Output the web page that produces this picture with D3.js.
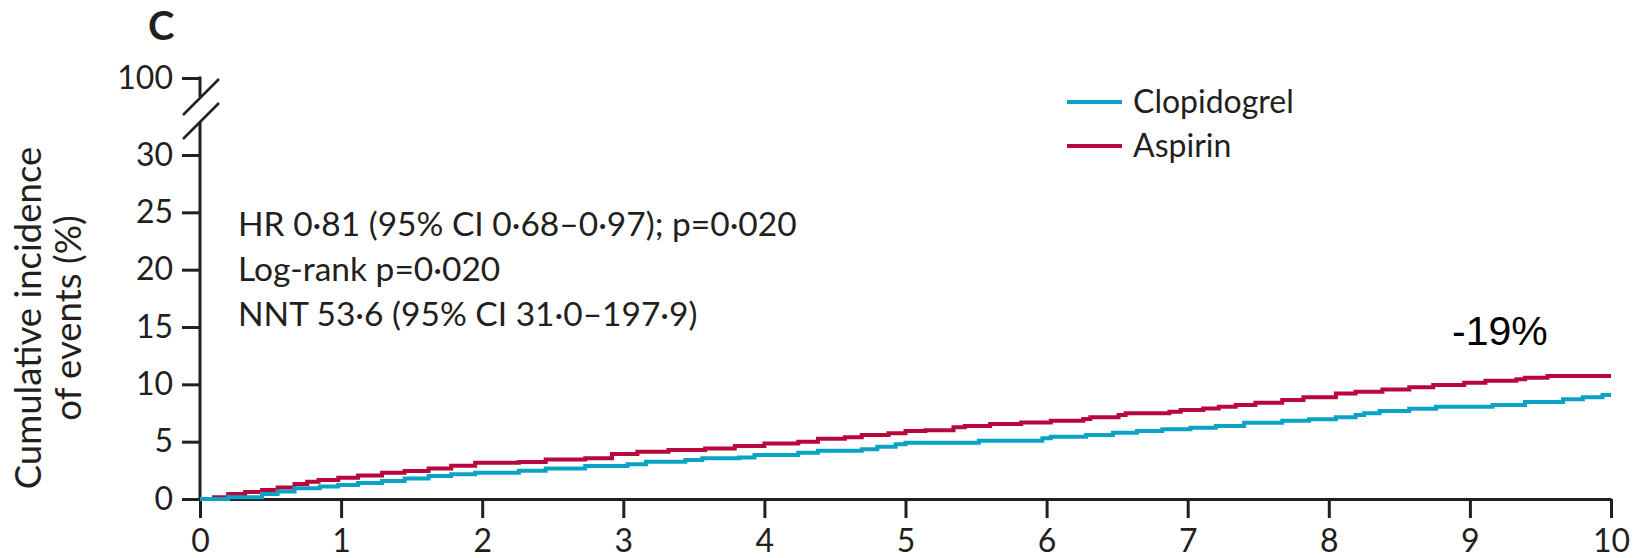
<!DOCTYPE html>
<html lang="en">
<head>
<meta charset="UTF-8">
<title>Cumulative incidence</title>
<script src="https://d3js.org/d3.v7.min.js"></script>
<style>
    body { margin: 0; background: #fff; }
    svg text { font-family: Lato, "Open Sans", sans-serif; fill: #231f20; }
    .axis path, .axis line { stroke: #231f20; stroke-width: 3; }
</style>
</head>
<body>
<script>

    // years, cumulative incidence (%) at each step
    var aspirinT = [0, 0.1, 0.2, 0.32, 0.44, 0.55, 0.67, 0.76, 0.84, 0.98, 1.12, 1.29, 1.45, 1.62, 1.78, 1.95, 2.26, 2.45, 2.73, 2.92, 3.1, 3.32, 3.58, 3.79, 4.0, 4.24, 4.38, 4.57, 4.69, 4.88, 5.0, 5.14, 5.34, 5.42, 5.6, 5.82, 6.03, 6.26, 6.31, 6.51, 6.56, 6.87, 6.95, 7.11, 7.22, 7.34, 7.48, 7.67, 7.82, 8.05, 8.19, 8.38, 8.57, 8.74, 8.96, 9.11, 9.33, 9.39, 9.55, 10];
    var aspirinV = [0, 0.15, 0.43, 0.6, 0.78, 1.0, 1.3, 1.5, 1.66, 1.86, 2.05, 2.3, 2.45, 2.67, 2.9, 3.17, 3.22, 3.45, 3.55, 3.92, 4.12, 4.27, 4.4, 4.62, 4.85, 5.0, 5.26, 5.38, 5.58, 5.73, 5.93, 6.0, 6.25, 6.36, 6.54, 6.68, 6.83, 6.97, 7.12, 7.32, 7.47, 7.61, 7.76, 7.9, 8.05, 8.2, 8.4, 8.63, 8.87, 9.21, 9.35, 9.56, 9.74, 9.94, 10.14, 10.31, 10.44, 10.58, 10.72, 10.72];

    var clopT = [0, 0.2, 0.44, 0.55, 0.67, 0.85, 0.98, 1.12, 1.29, 1.45, 1.62, 1.78, 1.95, 2.26, 2.45, 2.73, 3.03, 3.16, 3.44, 3.56, 3.82, 3.93, 4.24, 4.38, 4.69, 4.8, 4.93, 5.0, 5.52, 5.97, 6.03, 6.28, 6.47, 6.64, 6.82, 7.02, 7.2, 7.4, 7.67, 7.86, 8.05, 8.19, 8.25, 8.36, 8.57, 8.76, 9.16, 9.39, 9.66, 9.8, 9.94, 10];
    var clopV = [0, 0.15, 0.43, 0.65, 0.93, 1.1, 1.22, 1.4, 1.57, 1.78, 2.0, 2.15, 2.3, 2.47, 2.67, 2.88, 3.02, 3.25, 3.4, 3.55, 3.63, 3.84, 4.04, 4.2, 4.33, 4.56, 4.77, 4.9, 5.08, 5.29, 5.43, 5.58, 5.78, 5.93, 6.08, 6.22, 6.36, 6.65, 6.83, 6.95, 7.12, 7.32, 7.47, 7.67, 7.87, 8.05, 8.2, 8.46, 8.69, 8.87, 9.07, 9.07];

    var xTicks = [0, 1, 2, 3, 4, 5, 6, 7, 8, 9, 10];
    var yTicks = [0, 5, 10, 15, 20, 25, 30, 100];
    var seriesNames = ["Clopidogrel", "Aspirin"];
    var seriesColors = ["#0aa3c5", "#b7073d"];
    var statLines = ["HR 0·81 (95% CI 0·68–0·97); p=0·020", "Log-rank p=0·020", "NNT 53·6 (95% CI 31·0–197·9)"];

    var width = 1644;
    var height = 558;

    var svg = d3.select("body").append("svg")
        .attr("width", width)
        .attr("height", height);

    var x = d3.scaleLinear().domain([0, 10]).range([200, 1611]);
    // broken axis: 0-30 linear, then jump to 100
    var y = d3.scaleLinear().domain([0, 30, 100]).range([499, 155, 78]);

    var xAxis = svg.append("g")
        .attr("class", "axis")
        .attr("transform", "translate(0," + y(0) + ")")
        .call(d3.axisBottom(x).tickValues(xTicks).tickSize(19).tickSizeOuter(0).tickPadding(11));
    xAxis.selectAll("text").attr("font-size", "32px");

    var yAxis = svg.append("g")
        .attr("class", "axis")
        .attr("transform", "translate(" + x(0) + ",0)")
        .call(d3.axisLeft(y).tickValues(yTicks).tickSize(18).tickPadding(9));
    yAxis.select(".domain").remove();
    yAxis.selectAll("text").attr("font-size", "32px");

    // axis line with the break
    yAxis.append("line")
        .attr("x1", 0).attr("x2", 0)
        .attr("y1", y(30) - 33).attr("y2", y(0));
    yAxis.append("line")
        .attr("x1", 0).attr("x2", 0)
        .attr("y1", y(100) - 1.5).attr("y2", y(100) + 19);
    [0, 24].forEach(function (off) {
        yAxis.append("line")
            .attr("x1", -17).attr("y1", y(100) + 37 + off)
            .attr("x2", 19).attr("y2", y(100) + 1 + off)
            .style("stroke-width", 2.5);
    });

    var line = d3.line()
        .curve(d3.curveStepAfter)
        .x(function (d) { return x(d[0]); })
        .y(function (d) { return y(d[1]); });

    var series = [d3.zip(clopT, clopV), d3.zip(aspirinT, aspirinV)];

    // aspirin drawn first so clopidogrel sits on top near the origin
    [1, 0].forEach(function (i) {
        svg.append("path")
            .datum(series[i])
            .attr("fill", "none")
            .attr("stroke", seriesColors[i])
            .attr("stroke-width", 4)
            .attr("d", line);
    });

    // legend
    var legend = svg.append("g").attr("transform", "translate(1067,102)");
    seriesNames.forEach(function (name, i) {
        legend.append("line")
            .attr("x1", 0).attr("x2", 55)
            .attr("y1", i * 44).attr("y2", i * 44)
            .attr("stroke", seriesColors[i])
            .attr("stroke-width", 4);
        legend.append("text")
            .attr("x", 66)
            .attr("y", i * 44 + 11)
            .attr("font-size", "32px")
            .text(name);
    });

    // statistics
    svg.append("g").selectAll("text")
        .data(statLines)
        .enter()
        .append("text")
        .attr("x", 238)
        .attr("y", function (d, i) { return 236 + i * 45; })
        .attr("font-size", "33.5px")
        .text(function (d) { return d; });

    // axis title
    svg.append("text")
        .attr("transform", "translate(41,318) rotate(-90)")
        .attr("text-anchor", "middle")
        .attr("font-size", "36.5px")
        .text("Cumulative incidence");
    svg.append("text")
        .attr("transform", "translate(81,318) rotate(-90)")
        .attr("text-anchor", "middle")
        .attr("font-size", "36.5px")
        .text("of events (%)");

    // panel letter
    svg.append("text")
        .attr("x", 148)
        .attr("y", 40)
        .attr("font-size", "40px")
        .attr("font-weight", "bold")
        .text("C");

    svg.append("text")
        .attr("x", 1452)
        .attr("y", 345)
        .attr("font-size", "41px")
        .style("font-family", "'Liberation Sans', sans-serif")
        .style("fill", "#000")
        .text("-19%");

</script>
</body>
</html>
